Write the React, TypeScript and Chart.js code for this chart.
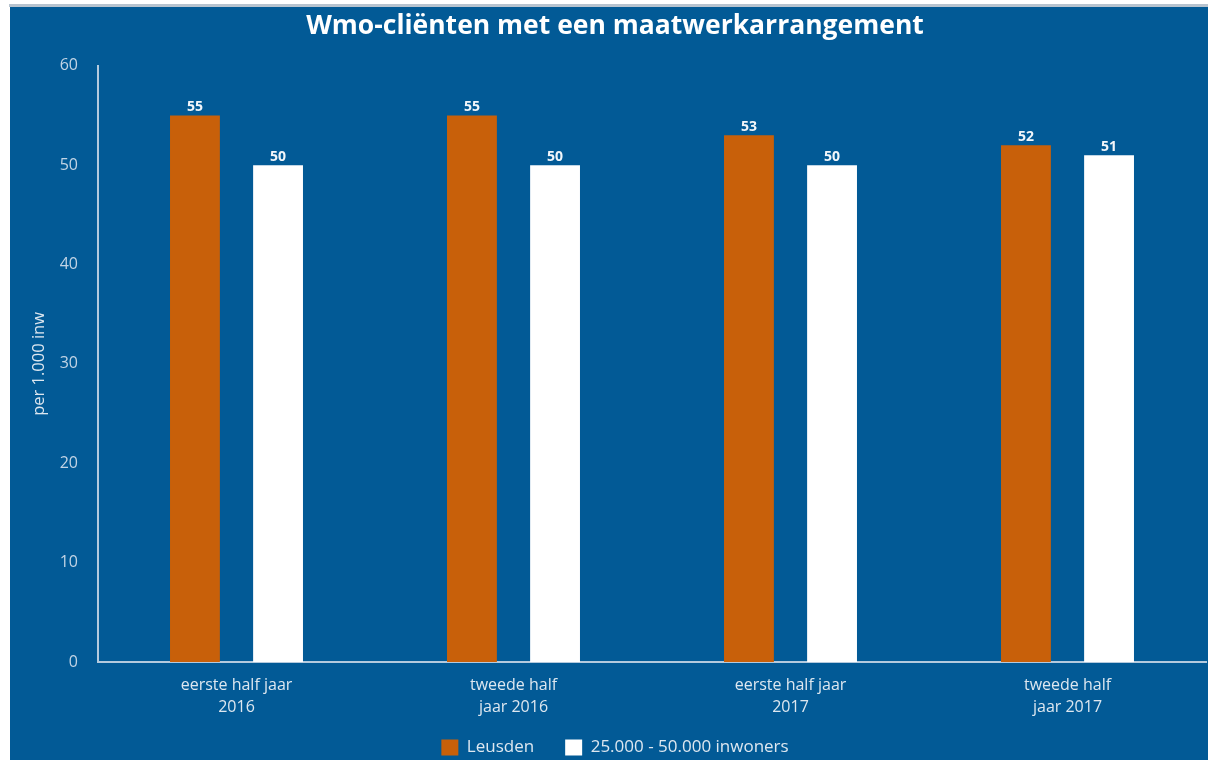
import React, { useEffect, useRef } from "react";
import { Chart, registerables } from "chart.js";

Chart.register(...registerables);

const categories: string[][] = [
  ["eerste half jaar", "2016"],
  ["tweede half", "jaar 2016"],
  ["eerste half jaar", "2017"],
  ["tweede half", "jaar 2017"],
];
const leusden: number[] = [55, 55, 53, 52];
const gemeenten: number[] = [50, 50, 50, 51];
const yTicks: number[] = [0, 10, 20, 30, 40, 50, 60];

const BG = "#025a96";
const ORANGE = "#c8600a";
const TICK = "#c2d4e5";
const TEXT = "#dde7f0";
const AXIS = "#b4cade";
const FONT = "'Open Sans', sans-serif";

const valueLabels = {
  id: "valueLabels",
  afterDatasetsDraw(chart: any) {
    const ctx = chart.ctx;
    ctx.save();
    ctx.font = `bold 14px ${FONT}`;
    ctx.fillStyle = "#f2f6fa";
    ctx.textAlign = "center";
    ctx.textBaseline = "bottom";
    chart.data.datasets.forEach((ds: any, i: number) => {
      const meta = chart.getDatasetMeta(i);
      meta.data.forEach((bar: any, j: number) => {
        ctx.fillText(String(ds.data[j]), bar.x, bar.y - 1);
      });
    });
    ctx.restore();
  },
};

export default function App() {
  const ref = useRef<HTMLCanvasElement | null>(null);
  useEffect(() => {
    document.body.style.margin = "0";
    const chart = new Chart(ref.current!, {
      type: "bar",
      data: {
        labels: categories,
        datasets: [
          {
            label: "Leusden",
            data: leusden,
            backgroundColor: ORANGE,
            borderWidth: 0,
            barPercentage: 0.6,
            categoryPercentage: 0.6,
          },
          {
            label: "25.000 - 50.000 inwoners",
            data: gemeenten,
            backgroundColor: "#ffffff",
            borderWidth: 0,
            barPercentage: 0.6,
            categoryPercentage: 0.6,
          },
        ],
      },
      options: {
        animation: false,
        responsive: false,
        maintainAspectRatio: false,
        layout: { padding: { left: 14, right: 2, top: 0, bottom: 0 } },
        plugins: {
          title: {
            display: true,
            text: "Wmo-cliënten met een maatwerkarrangement",
            color: "#ffffff",
            font: { family: FONT, size: 26.5, weight: "bold" },
            padding: { top: 4, bottom: 23 },
          },
          legend: {
            display: true,
            position: "bottom",
            labels: {
              color: TEXT,
              font: { family: FONT, size: 17 },
              boxWidth: 17,
              boxHeight: 16,
              padding: 31,
            },
          },
          tooltip: { enabled: false },
        },
        scales: {
          x: {
            afterFit: (s: any) => {
              s.height = 46;
              s._computeLabelArea = () => undefined;
            },
            grid: { display: false, drawTicks: false },
            border: { display: true, color: AXIS, width: 2 },
            ticks: {
              color: TEXT,
              font: { family: FONT, size: 16, lineHeight: 1.4 },
              maxRotation: 0,
              padding: 12,
            },
          },
          y: {
            min: 0,
            max: 60,
            afterBuildTicks: (s: any) => {
              s.ticks = yTicks.map((v) => ({ value: v }));
            },
            afterFit: (s: any) => {
              s.width = 74;
            },
            grid: { display: false, drawTicks: false },
            border: { display: true, color: AXIS, width: 2 },
            ticks: {
              color: TICK,
              font: { family: FONT, size: 16 },
              padding: 20,
            },
            title: {
              display: true,
              text: "per 1.000 inw",
              color: TEXT,
              font: { family: FONT, size: 16.5 },
              padding: { top: 5, bottom: 0 },
            },
          },
        },
      },
      plugins: [valueLabels],
    });
    return () => chart.destroy();
  }, []);

  return (
    <div style={{ position: "relative", width: 1208, height: 760, background: "#ffffff", overflow: "hidden" }}>
      <div
        style={{
          position: "absolute",
          left: 9,
          top: 4,
          width: 1199,
          height: 3,
          background: "#b7c3cf",
        }}
      />
      <div
        style={{
          position: "absolute",
          left: 10,
          top: 7,
          width: 1198,
          height: 753,
          background: BG,
          overflow: "hidden",
        }}
      >
        <canvas ref={ref} width={1198} height={759} style={{ display: "block" }} />
      </div>
    </div>
  );
}
